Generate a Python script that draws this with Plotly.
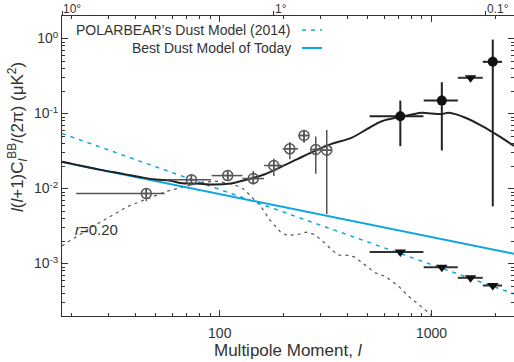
import math
import plotly.graph_objects as go

# ---------------- data ----------------
# total model: lensing + dust + r=0.20 (black solid)
model_l = [18, 27, 35, 43.5, 50, 58.5, 65, 81, 94, 113, 135, 162, 195, 234, 280,
           337, 418, 493, 582, 718, 809, 902, 1007, 1122, 1206, 1445, 1734, 2083, 2450]
model_v = [0.0228, 0.0179, 0.0157, 0.0140, 0.0132, 0.0127, 0.0119, 0.0116, 0.0113, 0.0117,
           0.0132, 0.0154, 0.0195, 0.0249, 0.0315, 0.0395, 0.0475, 0.0614, 0.079, 0.0906,
           0.0973, 0.1023, 0.100, 0.099, 0.1023, 0.0879, 0.068, 0.0499, 0.037]

# tensor model r = 0.20 (black dashed)
tensor_l = [18, 18.9, 25.3, 36.4, 46, 56.4, 68, 81, 97.4, 117, 130.5, 140.3, 156.4, 171.4,
            194.8, 209.6, 233.7, 256, 280.4, 312.8, 336.6, 362, 389, 404, 434.6, 484, 541,
            603, 698, 779, 1000]
tensor_v = [0.00172, 0.00189, 0.00315, 0.00571, 0.0074, 0.00923, 0.0106, 0.0121, 0.01253,
            0.01133, 0.00973, 0.00791, 0.00582, 0.00387, 0.00257, 0.00237, 0.00244, 0.00262,
            0.00244, 0.00189, 0.00154, 0.00130, 0.00131, 0.00129, 0.00122, 0.000973,
            0.000753, 0.000679, 0.000499, 0.000367, 0.000205]

# dust models
dust_today_l = [18, 2450]
dust_today_v = [0.0226, 0.00135]
dust_pb_l = [18, 2450]
dust_pb_v = [0.0542, 0.000395]

# BICEP2-like open points
bk_l = [45, 73.5, 109, 144, 180, 214, 250, 284, 320]
bk_xlo = [21, 56, 91.5, 128, 162, 198, 235, 275, 307]
bk_xhi = [55, 91, 128, 162, 202, 234, 258, 297, 337]
bk_v = [0.0086, 0.0131, 0.0149, 0.0136, 0.0203, 0.0339, 0.051, 0.0332, 0.0325]
bk_vlo = [0.0068, 0.0117, 0.0133, 0.0113, 0.0147, 0.0246, 0.0404, 0.0158, 0.00458]
bk_vhi = [0.0102, 0.0147, 0.0167, 0.0171, 0.0249, 0.0417, 0.0604, 0.0494, 0.0604]

# POLARBEAR detections (filled circles)
pb_l = [712, 1118, 1945]
pb_xlo = [510, 918, 1745]
pb_xhi = [915, 1330, 2150]
pb_v = [0.0923, 0.149, 0.49]
pb_vlo = [0.0367, 0.0322, 0.0058]
pb_vhi = [0.149, 0.262, 0.97]

# upper limits (filled down triangles)
ul_l = [712, 1118, 1528, 1945, 1528]
ul_xlo = [510, 918, 1330, 1745, 1330]
ul_xhi = [915, 1330, 1745, 2150, 1745]
ul_v = [0.00143, 0.000895, 0.000646, 0.00051, 0.30]

# angular scale (top axis)
deg_vals = [10, 1, 0.1]
deg_text = ["10°", "1°", "0.1°"]
deg_l = [180.0 / d for d in deg_vals]

x_major = [100, 1000]
x_major_text = ["100", "1000"]
y_major = [1, 0.1, 0.01, 0.001]
y_major_text = ["10<sup>0</sup>", "10<sup>-1</sup>", "10<sup>-2</sup>", "10<sup>-3</sup>"]

# ---------------- styling ----------------
BLUE = "#0ea5e0"
AX = "#333333"
FONT = "Liberation Sans, Arial, Helvetica, sans-serif"
W, H = 514, 362
ML, MR, MT, MB = 62, 0, 16, 46
PW, PH = W - ML - MR, H - MT - MB

def px(x):
    return (x - ML) / PW

def py(y):
    return (H - MB - y) / PH

def minus(a, b):
    return [ai - bi for ai, bi in zip(a, b)]

x_minor = [k * 10 for k in range(2, 10)] + [k * 100 for k in range(2, 10)] + [2000]
y_minor = [k * 10.0 ** e for e in range(-4, 1) for k in range(2, 10)]

fig = go.Figure()

fig.add_trace(go.Scatter(x=tensor_l, y=tensor_v, mode="lines",
                         line=dict(color="#555555", width=1.2, dash="3px,4px")))
fig.add_trace(go.Scatter(x=dust_pb_l, y=dust_pb_v, mode="lines",
                         line=dict(color=BLUE, width=1.5, dash="4px,5px")))
fig.add_trace(go.Scatter(x=dust_today_l, y=dust_today_v, mode="lines",
                         line=dict(color=BLUE, width=2)))
fig.add_trace(go.Scatter(x=model_l, y=model_v, mode="lines", line_shape="spline",
                         line=dict(color="#222222", width=2)))

fig.add_trace(go.Scatter(
    x=bk_l, y=bk_v, mode="markers",
    marker=dict(symbol="circle-cross-open", size=10, color="#555555", line=dict(width=1.5)),
    error_x=dict(type="data", symmetric=False, array=minus(bk_xhi, bk_l),
                 arrayminus=minus(bk_l, bk_xlo), color="#555555", thickness=1.5, width=0),
    error_y=dict(type="data", symmetric=False, array=minus(bk_vhi, bk_v),
                 arrayminus=minus(bk_v, bk_vlo), color="#555555", thickness=1.5, width=0)))

fig.add_trace(go.Scatter(
    x=ul_l, y=ul_v, mode="markers",
    marker=dict(symbol="triangle-down", size=10, color="#111111"),
    error_x=dict(type="data", symmetric=False, array=minus(ul_xhi, ul_l),
                 arrayminus=minus(ul_l, ul_xlo), color="#333333", thickness=2, width=0)))

fig.add_trace(go.Scatter(
    x=pb_l, y=pb_v, mode="markers",
    marker=dict(symbol="circle", size=10, color="#111111"),
    error_x=dict(type="data", symmetric=False, array=minus(pb_xhi, pb_l),
                 arrayminus=minus(pb_l, pb_xlo), color="#222222", thickness=2, width=0),
    error_y=dict(type="data", symmetric=False, array=minus(pb_vhi, pb_v),
                 arrayminus=minus(pb_v, pb_vlo), color="#222222", thickness=2, width=0)))

# carrier for the top (angular) axis
fig.add_trace(go.Scatter(x=deg_l, y=[1] * len(deg_l), xaxis="x2", mode="markers",
                         marker=dict(opacity=0), hoverinfo="skip"))

xr = [math.log10(18), math.log10(2450)]
yr = [math.log10(2e-4), math.log10(2)]

fig.update_layout(
    width=W, height=H, margin=dict(l=ML, r=MR, t=MT, b=MB, autoexpand=False),
    paper_bgcolor="white", plot_bgcolor="white", showlegend=False, hovermode=False,
    font=dict(family=FONT, size=14, color=AX),
    xaxis=dict(type="log", range=xr, tickmode="array", tickvals=x_major, ticktext=x_major_text,
               ticks="inside", ticklen=6, tickcolor=AX, tickwidth=1,
               showline=True, linecolor=AX, linewidth=1, mirror="ticks",
               showgrid=False, zeroline=False, ticklabelstandoff=4,
               minor=dict(tickmode="array", tickvals=x_minor, ticks="inside", ticklen=3,
                          tickcolor=AX, showgrid=False),
               tickfont=dict(size=14, color=AX)),
    xaxis2=dict(type="log", range=xr, overlaying="x", side="top", anchor="y",
                tickmode="array", tickvals=deg_l, showticklabels=False,
                ticks="outside", ticklen=4, tickcolor=AX, showline=False,
                showgrid=False, zeroline=False),
    yaxis=dict(type="log", range=yr, tickmode="array", tickvals=y_major, ticktext=y_major_text,
               ticks="inside", ticklen=6, tickcolor=AX, tickwidth=1,
               showline=True, linecolor=AX, linewidth=1, mirror="ticks",
               showgrid=False, zeroline=False,
               minor=dict(tickmode="array", tickvals=y_minor, ticks="inside", ticklen=3,
                          tickcolor=AX, showgrid=False),
               tickfont=dict(size=14, color=AX)),
)

ann = [
    dict(text="POLARBEAR’s Dust Model (2014)", x=px(293), y=py(30), xanchor="right",
         yanchor="middle", font=dict(size=14, color=AX)),
    dict(text="Best Dust Model of Today", x=px(293), y=py(48), xanchor="right",
         yanchor="middle", font=dict(size=14, color=AX)),
    dict(text="Multipole Moment, <i>l</i>", x=0.5, y=py(350), xanchor="center",
         yanchor="middle", font=dict(size=17, color=AX)),
    dict(text="<i>l</i>(<i>l</i>+1)C<sub><i>l</i></sub><sup>BB</sup>/(2π) (μK<sup>2</sup>)",
         x=px(17), y=py(137), xanchor="center", yanchor="middle", textangle=-90,
         font=dict(size=17, color=AX)),
]
for a in ann:
    a.update(xref="paper", yref="paper", showarrow=False)
# angular-scale labels on top axis
for lv, txt in zip(deg_l, deg_text):
    ann.append(dict(text=txt, x=math.log10(lv), y=py(8.5), xref="x", yref="paper",
                    xanchor="left", yanchor="middle", showarrow=False, xshift=-1,
                    font=dict(size=12, color=AX)))
ann.append(dict(text="<i>r</i>=0.20", x=math.log10(20.2), y=math.log10(0.00289),
                xref="x", yref="y", xanchor="left", yanchor="middle", showarrow=False,
                font=dict(size=15, color=AX)))
fig.update_layout(annotations=ann)

fig.update_layout(shapes=[
    dict(type="line", xref="paper", yref="paper", x0=px(302), x1=px(322), y0=py(30), y1=py(30),
         line=dict(color=BLUE, width=1.5, dash="4px,5px")),
    dict(type="line", xref="paper", yref="paper", x0=px(302), x1=px(322), y0=py(48), y1=py(48),
         line=dict(color=BLUE, width=2)),
])

fig.write_html("out.html", config={"displayModeBar": False, "staticPlot": True},
               post_script="document.body.style.margin='0';document.body.style.overflow='hidden';")
